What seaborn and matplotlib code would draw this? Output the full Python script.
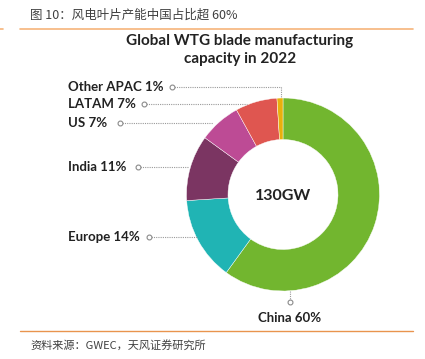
import matplotlib
matplotlib.use("Agg")
import matplotlib.pyplot as plt
import seaborn as sns

# data
regions = ["China", "Europe", "India", "US", "LATAM", "Other APAC"]
shares = [60, 14, 11, 7, 7, 1]
colors = ["#72B62F", "#20B4B4", "#7B3562", "#BD4B95", "#DF5650", "#E9B00C"]
total_label = "130GW"

sns.set_theme(style="white")
plt.rcParams["font.family"] = ["Lato", "DejaVu Sans"]
cjk = ["Noto Sans CJK SC", "DejaVu Sans"]

fig = plt.figure(figsize=(4.25, 3.59), dpi=100)
ax = fig.add_axes([0, 0, 1, 1])

# donut (y axis is inverted below, so counterclock=True reads clockwise on screen)
cx, cy, r = 283, 194.5, 96.5
ax.pie(shares, colors=colors, startangle=-90, counterclock=True,
       radius=r, center=(cx, cy), wedgeprops=dict(width=r - 55, linewidth=0.3, edgecolor="white"))
ax.set_xlim(0, 425)
ax.set_ylim(359, 0)
ax.axis("off")

ax.text(cx, cy + 1, total_label, ha="center", va="center", fontsize=11.5, fontweight="bold", color="#222222")

# leader lines + labels
line_kw = dict(color="#9A9A9A", lw=0.8, ls=(0, (1, 1)))
mark_kw = dict(marker="o", ms=3.5, mfc="white", mec="#8A8A8A", mew=0.8)
label_pos = {
    "Other APAC": ([172, 281, 281], [87, 87, 97], 87),
    "LATAM": ([144, 247], [104, 104], 104),
    "US": ([120, 213], [123, 123], 123),
    "India": ([138, 188], [167, 167], 167),
    "Europe": ([149, 197], [237, 237], 237),
}
for name, val in zip(regions, shares):
    if name == "China":
        ax.plot([290, 290], [291, 302], **line_kw)
        ax.plot(290, 302, **mark_kw)
        ax.text(290, 318, f"{name} {val}%", ha="center", va="center",
                fontsize=9.5, fontweight="bold", color="#222222")
        continue
    xs, ys, ty = label_pos[name]
    ax.plot(xs, ys, **line_kw)
    ax.plot(xs[0], ys[0], **mark_kw)
    ax.text(68, ty, f"{name} {val}%", ha="left", va="center",
            fontsize=9.5, fontweight="bold", color="#222222")

# chart title
ax.text(240, 50, "Global WTG blade manufacturing\ncapacity in 2022", ha="center", va="center",
        fontsize=11, fontweight="bold", color="#222222", linespacing=1.4)

# report header / footer
ax.text(30, 15, "图 10：风电叶片产能中国占比超 60%", ha="left", va="center",
        fontsize=9, color="#404040", family=cjk)
ax.plot([20, 413], [28.5, 28.5], color="#F6B47A", lw=1.2)
ax.plot([0, 3], [28.5, 28.5], color="#F6B47A", lw=1.2)
ax.plot([20, 413], [331, 331], color="#E9944E", lw=1.0)
ax.text(30, 345, "资料来源：GWEC，天风证券研究所", ha="left", va="center",
        fontsize=8, color="#404040", family=cjk)

fig.savefig("out.png", dpi=100)
